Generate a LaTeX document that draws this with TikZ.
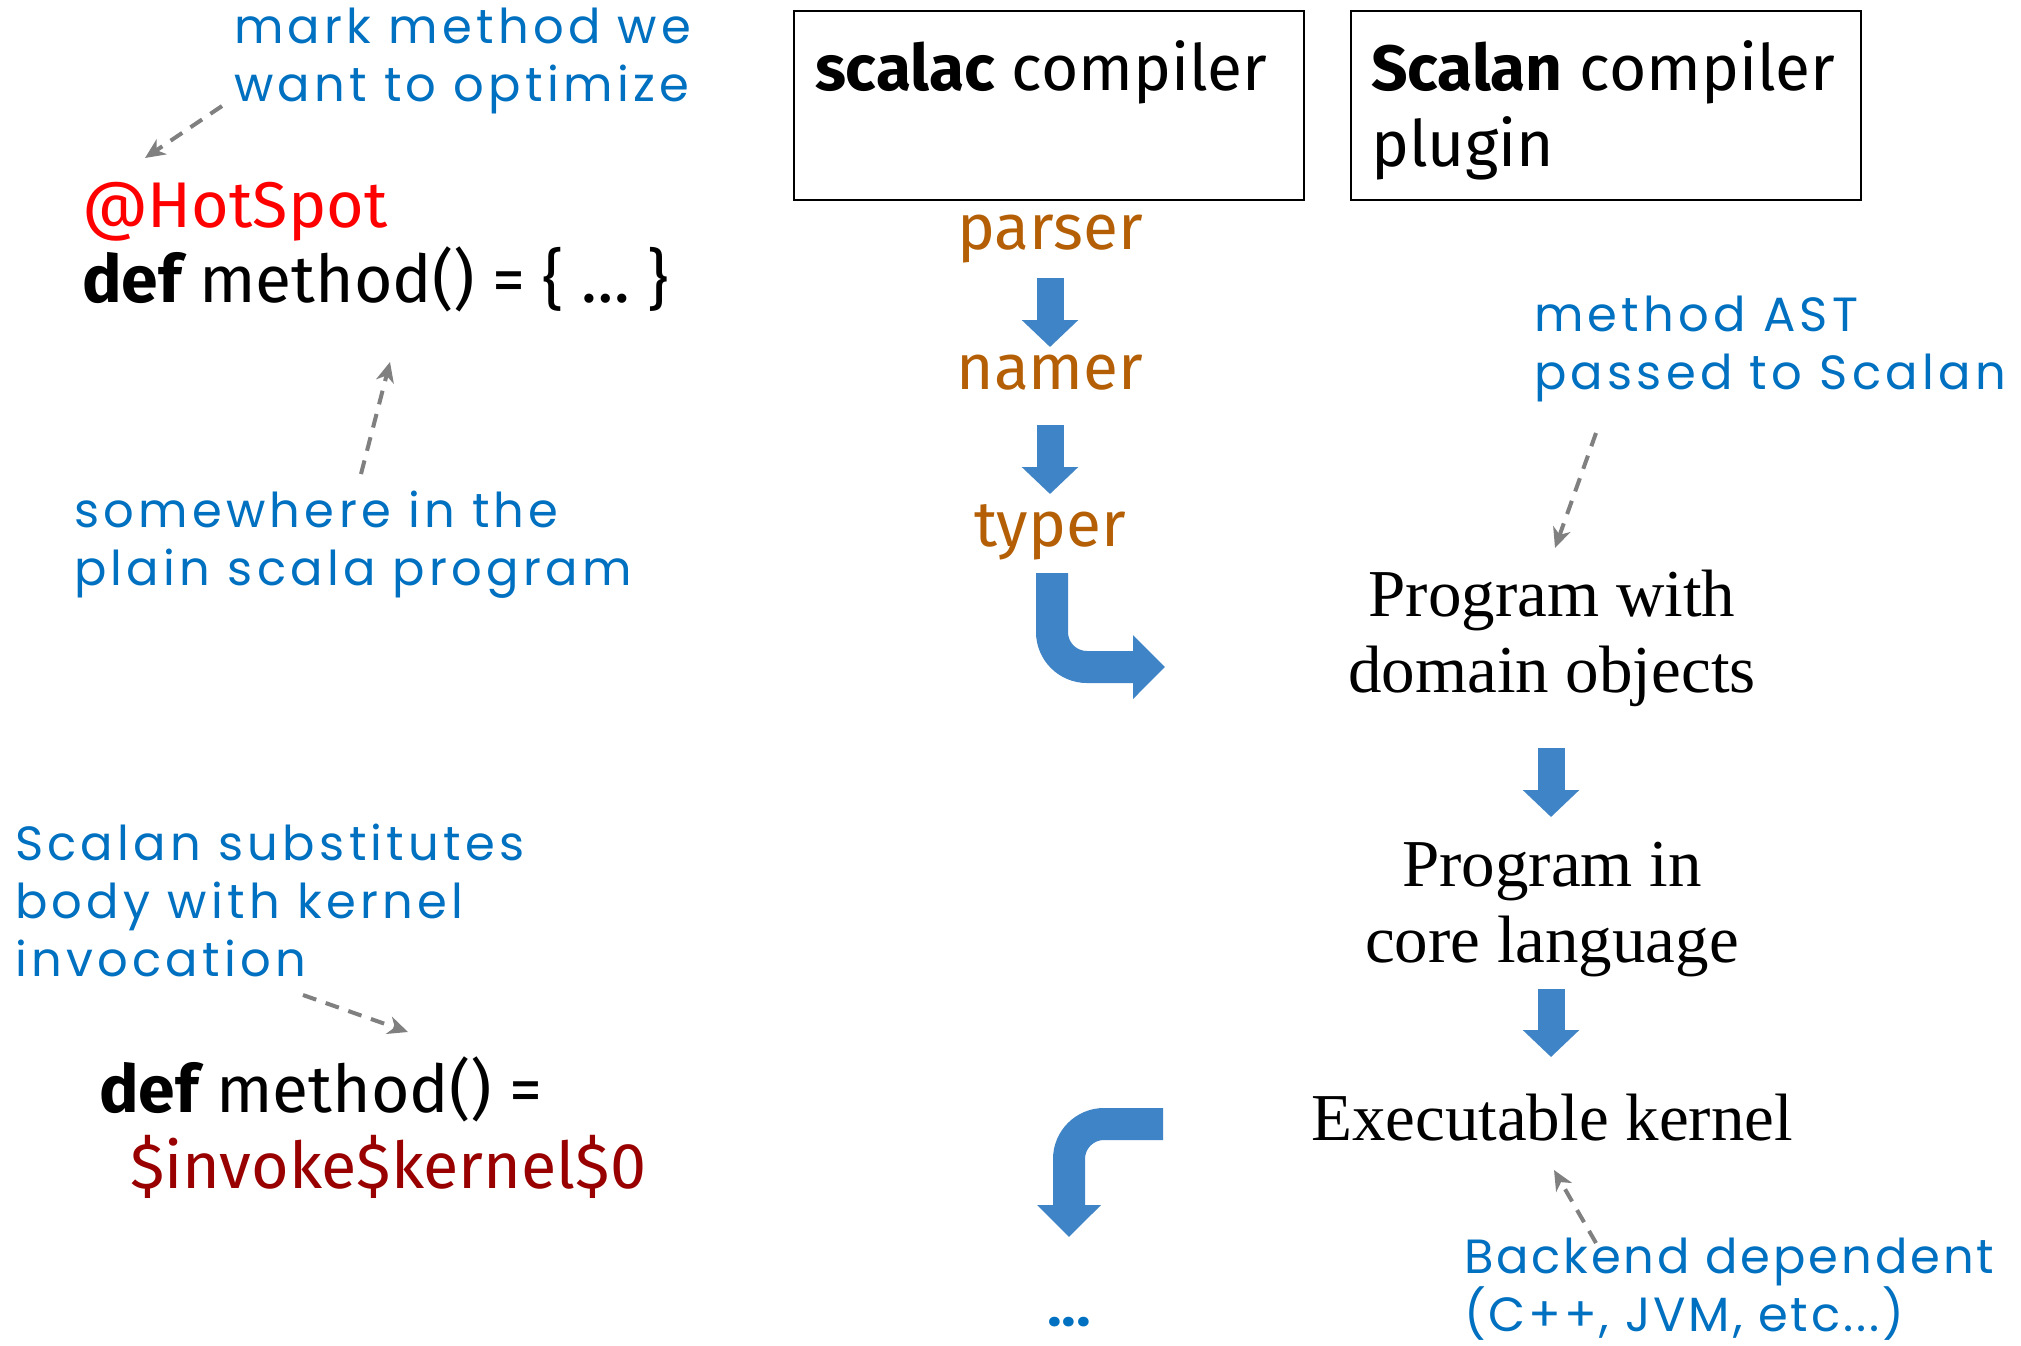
\documentclass[tikz,border=0pt]{standalone}
\usepackage{fontspec}
\setmainfont{Liberation Serif}
\newfontfamily\uf{Fira Sans}
\newfontfamily\hand[LetterSpace=9]{Poppins}
\newfontfamily\handc[LetterSpace=6]{Poppins}
\usetikzlibrary{arrows.meta,calc}
\definecolor{ablue}{HTML}{3F84C6}
\definecolor{nblue}{HTML}{0070C0}
\definecolor{orng}{HTML}{B45F06}
\definecolor{hotred}{HTML}{FF0000}
\definecolor{dred}{HTML}{990000}
\definecolor{pgray}{HTML}{808080}
\begin{document}
\begin{tikzpicture}[x=0.5pt,y=-0.5pt,
  every node/.style={inner sep=0pt, outer sep=0pt},
  note/.style={text=nblue, font={\hand\fontsize{24pt}{29pt}\selectfont}, align=left, anchor=base west},
  codetxt/.style={font={\uf\fontsize{33pt}{40pt}\selectfont}, anchor=base west},
  phase/.style={text=orng, font={\uf\fontsize{32pt}{38pt}\selectfont}, anchor=base},
  stage/.style={font={\fontsize{33.5pt}{38pt}\selectfont}, align=center, anchor=base},
  boxtxt/.style={font={\uf\fontsize{32pt}{38pt}\selectfont}, anchor=base west, align=left},
  cbox/.style={draw=black, line width=1pt, anchor=north west, minimum width=255pt, minimum height=94.5pt},
  bigarrow/.style={draw=ablue, line width=13.5pt, -{Triangle[length=13.5pt,width=27.5pt]}},
  bendarrow/.style={draw=ablue, line width=16pt, rounded corners=17.5pt, -{Triangle[length=16pt,width=31pt]}},
  pointer/.style={draw=pgray, line width=2pt, dash pattern=on 7pt off 5pt, -{Stealth[length=10pt,width=9pt,inset=3pt]}},
]
\fill[white] (0,0) rectangle (2021,1345);
\useasboundingbox (0,0) rectangle (2021,1345);

% left column (multi-line nodes are placed at the baseline of their last line)
\node[note] (mark) at (234,101) {mark method we\\want to optimize};
\node[codetxt, text=hotred, font={\uf\fontsize{32.3pt}{40pt}\selectfont}] (hot) at (82,227) {@HotSpot};
\node[codetxt] (def1) at (82,302) {\bfseries def\mdseries{} method() = \{ … \}};
\node[note] (some) at (74,585) {somewhere in the\\plain scala program};
\node[note] (subst) at (15,976) {Scalan substitutes\\body with kernel\\invocation};
\node[codetxt] (def2) at (99,1112) {\bfseries def\mdseries{} method() =};
\node[codetxt, text=dred, font={\uf\fontsize{32.3pt}{40pt}\selectfont}] (inv) at (130,1188) {\$invoke\$kernel\$0};

% compiler boxes
\node[cbox] (box1) at (794,11) {};
\node[boxtxt] (t1) at (815,90) {\bfseries scalac\mdseries{} compiler};
\node[cbox] (box2) at (1351,11) {};
\node[boxtxt] (t2) at (1371,166) {\bfseries Scalan\mdseries{} compiler\\plugin};

% scalac phases
\node[phase] (parser) at (1050,249) {parser};
\node[phase] (namer) at (1050,389) {namer};
\node[phase] (typer) at (1050,546) {typer};
\node[text=nblue, font={\fontspec{Poppins}[LetterSpace=0]\bfseries\fontsize{26pt}{29pt}\selectfont}, anchor=base] (dots) at (1069,1326) {...};

% Scalan stages
\node[note] (ast) at (1534,389) {method AST\\passed to Scalan};
\node[stage] (dom) at (1552,692) {Program with\\domain objects};
\node[stage] (core) at (1552,962) {Program in\\core language};
\node[stage] (exe) at (1552,1140) {Executable kernel};
\node[note, font={\handc\fontsize{24pt}{29pt}\selectfont}] (back) at (1464,1331) {Backend dependent\\(C++, JVM, etc...)};

% block arrows
\draw[bigarrow] ($(parser.base)+(0,29)$) -- ($(namer.base)+(0,-42)$);
\draw[bigarrow] ($(namer.base)+(0,36)$) -- ($(typer.base)+(0,-52)$);
\draw[bigarrow] ($(dom.base)+(-1,56)$) -- ($(core.base)+(-1,-145)$);
\draw[bigarrow] ($(core.base)+(-1,27)$) -- ($(exe.base)+(-1,-83)$);
\coordinate (tipA) at (1165,667);
\draw[bendarrow] ($(typer.base)+(2,27)$) |- (tipA);
\coordinate (startB) at (1163,1124);
\draw[bendarrow] (startB) -| ($(dots.base)+(0,-89)$);

% annotation pointers
\coordinate (p1s) at (222,106); \coordinate (p1e) at (145,158);
\draw[pointer] (p1s) -- (p1e);
\coordinate (p2s) at (361,474); \coordinate (p2e) at (390,362);
\draw[pointer] (p2s) -- (p2e);
\coordinate (p3s) at (303,995); \coordinate (p3e) at (408,1032);
\draw[pointer] (p3s) -- (p3e);
\coordinate (p4s) at (1596,433); \coordinate (p4e) at (1555,548);
\draw[pointer] (p4s) -- (p4e);
\coordinate (p5s) at (1596,1243); \coordinate (p5e) at (1554,1170);
\draw[pointer] (p5s) -- (p5e);
\end{tikzpicture}
\end{document}
